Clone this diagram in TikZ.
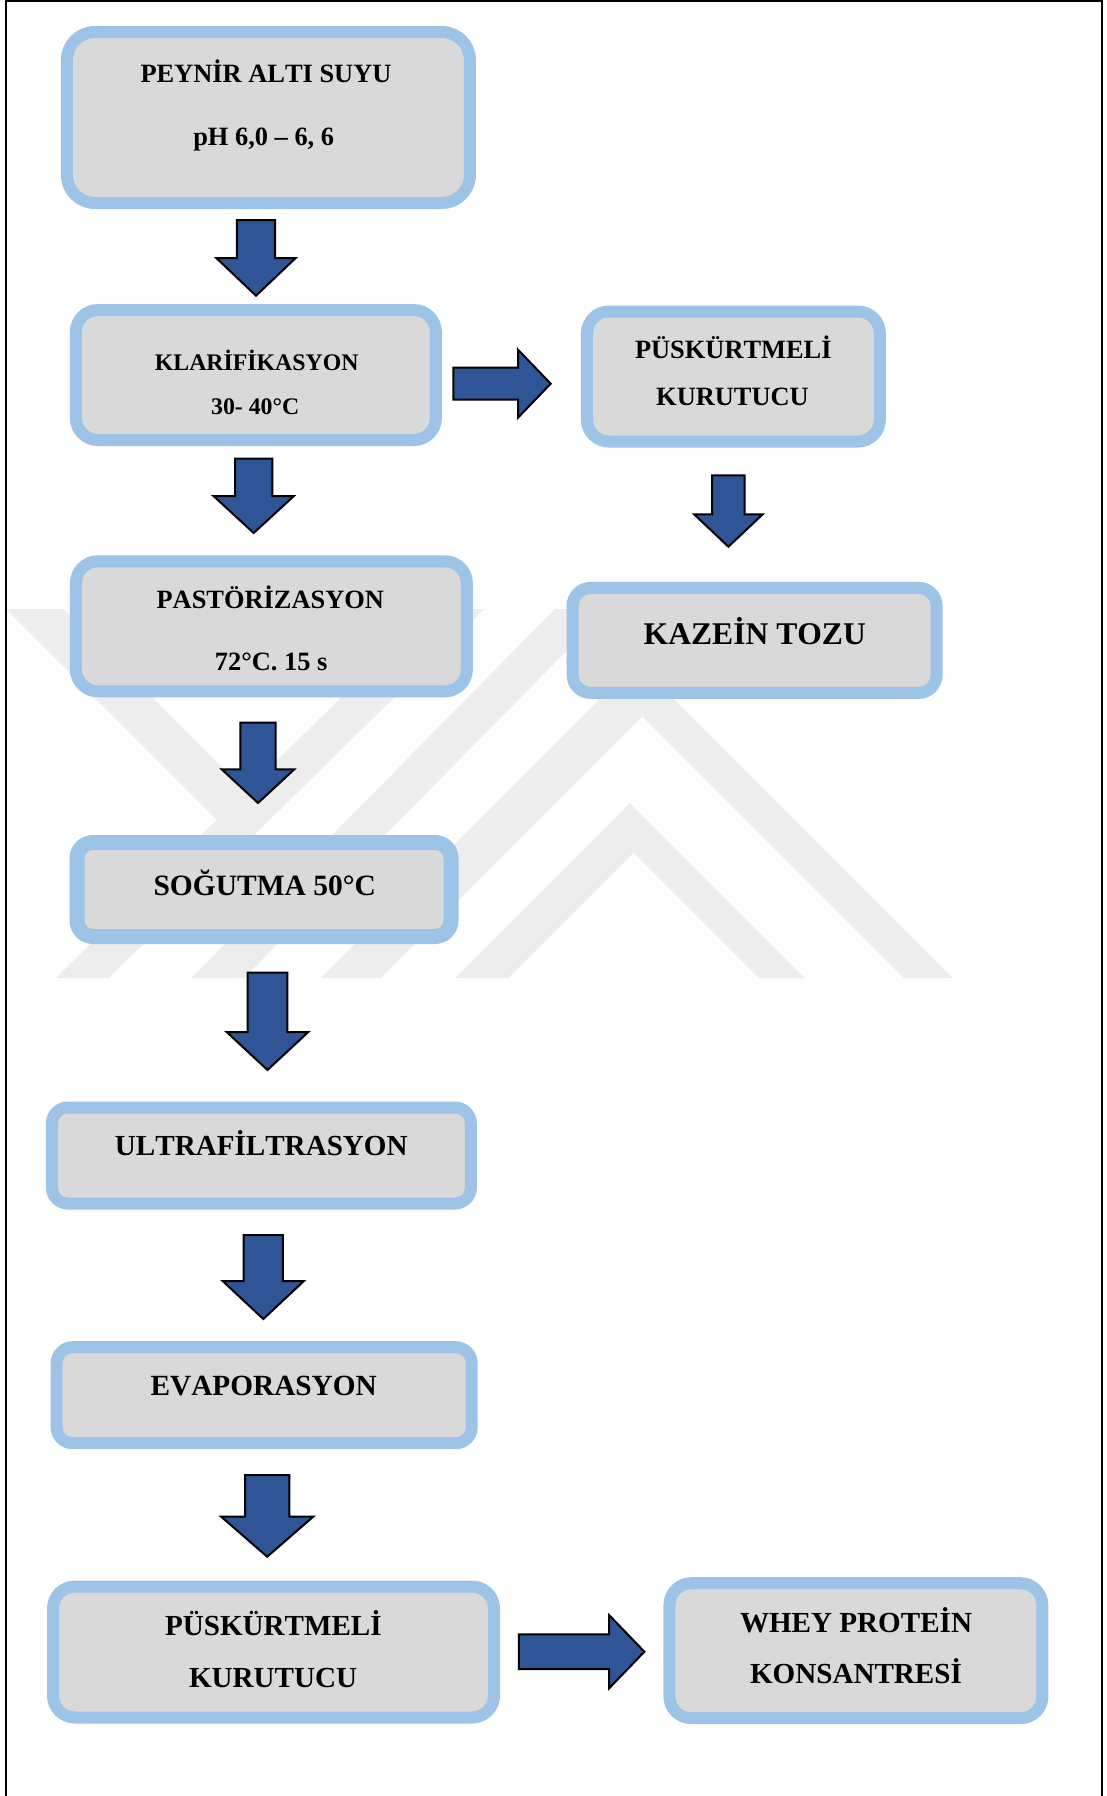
\documentclass[tikz,border=0pt]{standalone}
\usepackage{fontspec}
\setmainfont{Liberation Serif}[Kerning=Off]
\usetikzlibrary{calc}

\definecolor{edgeblue}{HTML}{9DC3E6}
\definecolor{boxgray}{HTML}{D9D9D9}
\definecolor{arrowblue}{HTML}{2F5597}
\definecolor{markgray}{HTML}{EDEDED}

\begin{document}
\begin{tikzpicture}[
      x=1pt, y=-1pt,
      stepbox/.style={draw=edgeblue, fill=boxgray, line width=12pt, rounded corners=#1, inner sep=0pt},
      stepbox/.default=22pt,
      txt/.style={inner sep=0pt, anchor=base, font=\bfseries\fontsize{#1}{#1}\selectfont},
      blk/.style={fill=arrowblue, draw=black, line width=2pt, line join=miter},
      wmark/.style={fill=markgray},
      blockdown/.style n args={3}{to path={
          ($(\tikztostart)+(-#1,0)$) -- ($(\tikztostart)+(#1,0)$) -- ($(\tikztotarget)+(#1,-#3)$)
          -- ($(\tikztotarget)+(#2,-#3)$) -- (\tikztotarget) -- ($(\tikztotarget)+(-#2,-#3)$)
          -- ($(\tikztotarget)+(-#1,-#3)$) -- cycle}},
      blockright/.style n args={3}{to path={
          ($(\tikztostart)+(0,-#1)$) -- ($(\tikztotarget)+(-#3,-#1)$) -- ($(\tikztotarget)+(-#3,-#2)$)
          -- (\tikztotarget) -- ($(\tikztotarget)+(-#3,#2)$) -- ($(\tikztotarget)+(-#3,#1)$)
          -- ($(\tikztostart)+(0,#1)$) -- cycle}}
  ]
      \useasboundingbox (0,0) rectangle (1107,1796);

      % watermark in the back
      \fill[wmark] (56,978) -- (109,978) -- (484,609) -- (431,609) -- cycle;
      \fill[wmark] (191,978) -- (244,978) -- (608,609) -- (555,609) -- cycle;
      \fill[wmark] (6,609) -- (64,609) -- (246,791) -- (243,846) -- cycle;
      \fill[wmark] (321,978) -- (637,662) -- (953,978) -- (904,978) -- (642.5,716.5) -- (381,978) -- cycle;
      \fill[wmark] (455,978) -- (630,803) -- (805,978) -- (759,978) -- (633.5,852.5) -- (508,978) -- cycle;

      % page frame
      \draw[line width=1.6pt] (6,1796) -- (6,1) -- (1102,1) -- (1102,1796);

      % boxes
      \node[stepbox=28pt, minimum width=403pt, minimum height=171pt] (peynir) at (268.4,117.5) {};
      \node[stepbox, minimum width=360pt, minimum height=130pt] (klarif) at (255.9,375) {};
      \node[stepbox, minimum width=293pt, minimum height=130pt] (kurutucuA) at (733.4,376.5) {};
      \node[stepbox=18pt, minimum width=364pt, minimum height=105pt] (kazein) at (754.6,640.4) {};
      \node[stepbox, minimum width=391pt, minimum height=130pt] (pastor) at (271.4,626.3) {};
      \node[stepbox=16pt, line width=15pt, minimum width=374pt, minimum height=94pt] (sogutma) at (264,889.5) {};
      \node[stepbox=16pt, minimum width=419pt, minimum height=96pt] (ultra) at (261.4,1155.5) {};
      \node[stepbox=16pt, minimum width=415pt, minimum height=96pt] (evap) at (264.2,1395.2) {};
      \node[stepbox, minimum width=441pt, minimum height=131pt] (kurutucuB) at (273.5,1652) {};
      \node[stepbox, minimum width=373pt, minimum height=135pt] (whey) at (855.9,1650.7) {};

      % texts
      \node[txt=26.4] (peynir-a) at (266,82) {PEYNİR ALTI SUYU};
      \node[txt=26.4] (peynir-b) at (263.7,145) {pH 6,0 – 6, 6};
      \node[txt=23.8] (klarif-a) at (256.7,370) {KLARİFİKASYON};
      \node[txt=23.8] (klarif-b) at (255.2,414.3) {30- 40°C};
      \node[txt=26.4] (kurutucuA-a) at (733.3,358.3) {PÜSKÜRTMELİ};
      \node[txt=26.4] (kurutucuA-b) at (732.5,405.7) {KURUTUCU};
      \node[txt=31.6] (kazein-a) at (754.8,644.3) {KAZEİN TOZU};
      \node[txt=26.4] (pastor-a) at (270.3,608.3) {PASTÖRİZASYON};
      \node[txt=26.4] (pastor-b) at (271.2,670) {72°C. 15 s};
      \node[txt=29.5] (sogutma-a) at (264.7,895) {SOĞUTMA 50°C};
      \node[txt=29.1] (ultra-a) at (261.3,1155) {ULTRAFİLTRASYON};
      \node[txt=29.3] (evap-a) at (263.7,1395) {EVAPORASYON};
      \node[txt=29.1] (kurutucuB-a) at (273.4,1635.7) {PÜSKÜRTMELİ};
      \node[txt=29.1] (kurutucuB-b) at (273.1,1687.3) {KURUTUCU};
      \node[txt=29.1] (whey-a) at (856,1632.7) {WHEY PROTEİN};
      \node[txt=29.1] (whey-b) at (856,1683.3) {KONSANTRESİ};

      % arrow ends
      \coordinate (a1s) at (256,220);     \coordinate (a1t) at (256,295.7);
      \coordinate (a2s) at (253.7,458.7); \coordinate (a2t) at (253.7,533);
      \coordinate (a3s) at (258,722.7);   \coordinate (a3t) at (258,803);
      \coordinate (a4s) at (267.5,972.7); \coordinate (a4t) at (267.5,1070);
      \coordinate (a5s) at (263.3,1235);  \coordinate (a5t) at (263.3,1319);
      \coordinate (a6s) at (267.2,1475);  \coordinate (a6t) at (267.2,1556.7);
      \coordinate (a7s) at (728.4,475.3); \coordinate (a7t) at (728.4,546.7);
      \coordinate (r1s) at (453.3,383.7); \coordinate (r1t) at (550.7,383.7);
      \coordinate (r2s) at (518.9,1651.7); \coordinate (r2t) at (644.4,1651.7);

      % block arrows
      \draw[blk] (a1s) to[blockdown={19.2}{39.7}{37.7}] (a1t);
      \draw[blk] (a2s) to[blockdown={18.7}{40.2}{37}] (a2t);
      \draw[blk] (a3s) to[blockdown={17.7}{36.3}{33.7}] (a3t);
      \draw[blk] (a4s) to[blockdown={19.8}{40.8}{38}] (a4t);
      \draw[blk] (a5s) to[blockdown={19.6}{40.6}{38}] (a5t);
      \draw[blk] (a6s) to[blockdown={22.1}{46}{40}] (a6t);
      \draw[blk] (a7s) to[blockdown={16.3}{34.3}{32.4}] (a7t);
      \draw[blk] (r1s) to[blockright={16}{34}{32.7}] (r1t);
      \draw[blk] (r2s) to[blockright={17.3}{36.5}{35.2}] (r2t);
  \end{tikzpicture}
\end{document}
